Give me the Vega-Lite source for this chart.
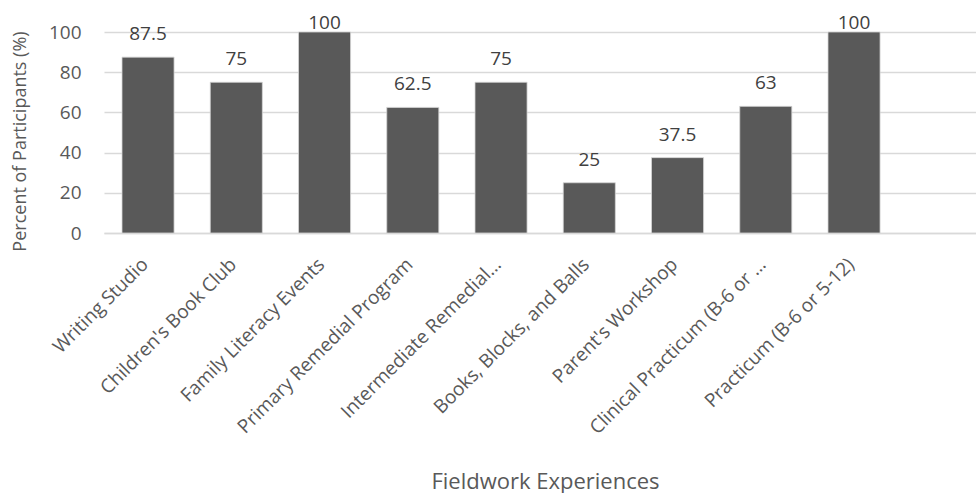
{
  "$schema": "https://vega.github.io/schema/vega-lite/v6.json",
  "width": 872,
  "height": 201,
  "autosize": {"type": "none"},
  "padding": {"left": 104, "top": 32, "right": 0, "bottom": 260},
  "background": "white",
  "config": {"view": {"stroke": null}, "font": "Open Sans"},
  "data": {
    "values": [
      {"experience": "Writing Studio", "percent": 87.5},
      {"experience": "Children's Book Club", "percent": 75},
      {"experience": "Family Literacy Events", "percent": 100},
      {"experience": "Primary Remedial Program", "percent": 62.5},
      {"experience": "Intermediate Remedial…", "percent": 75},
      {"experience": "Books, Blocks, and Balls", "percent": 25},
      {"experience": "Parent's Workshop", "percent": 37.5},
      {"experience": "Clinical Practicum (B-6 or …", "percent": 63},
      {"experience": "Practicum (B-6 or 5-12)", "percent": 100}
    ]
  },
  "encoding": {
    "x": {
      "field": "experience",
      "type": "nominal",
      "sort": null,
      "scale": {"paddingInner": 0.41, "paddingOuter": 0.6455, "align": 0.158},
      "axis": {
        "title": "Fieldwork Experiences",
        "titleFontSize": 22,
        "titleFontWeight": "normal",
        "titleColor": "#595959",
        "titleX": 441,
        "titleY": 248,
        "titleBaseline": "middle",
        "titleAnchor": "middle",
        "labelAngle": -45,
        "labelAlign": "right",
        "labelBaseline": "middle",
        "labelFontSize": 19,
        "labelColor": "#595959",
        "labelPadding": 28,
        "labelOffset": -3,
        "labelLimit": 400,
        "ticks": false,
        "domain": true,
        "domainColor": "#d9d9d9",
        "domainWidth": 1.5,
        "grid": false
      }
    }
  },
  "layer": [
    {
      "mark": {"type": "bar", "color": "#595959", "stroke": "#d6d6d6", "strokeWidth": 0.8},
      "encoding": {
        "y": {
          "field": "percent",
          "type": "quantitative",
          "scale": {"domain": [0, 100]},
          "axis": {
            "title": "Percent of Participants (%)",
            "titleFontSize": 18,
            "titleFontWeight": "normal",
            "titleColor": "#595959",
            "titleX": -84,
            "titleY": 109,
            "titleBaseline": "middle",
            "titleAlign": "center",
            "values": [0, 20, 40, 60, 80, 100],
            "labelFontSize": 19,
            "labelColor": "#595959",
            "labelPadding": 23,
            "ticks": false,
            "domain": false,
            "grid": true,
            "gridColor": "#d9d9d9",
            "gridWidth": 1.5
          }
        }
      }
    },
    {
      "mark": {"type": "text", "baseline": "alphabetic", "dy": -3, "fontSize": 19, "color": "#404040"},
      "encoding": {
        "y": {
          "field": "percent",
          "type": "quantitative",
          "scale": {"domain": [-6.97, 93.03], "clamp": true},
          "axis": null
        },
        "text": {"field": "percent", "type": "quantitative"}
      }
    }
  ],
  "resolve": {"scale": {"y": "independent"}}
}
